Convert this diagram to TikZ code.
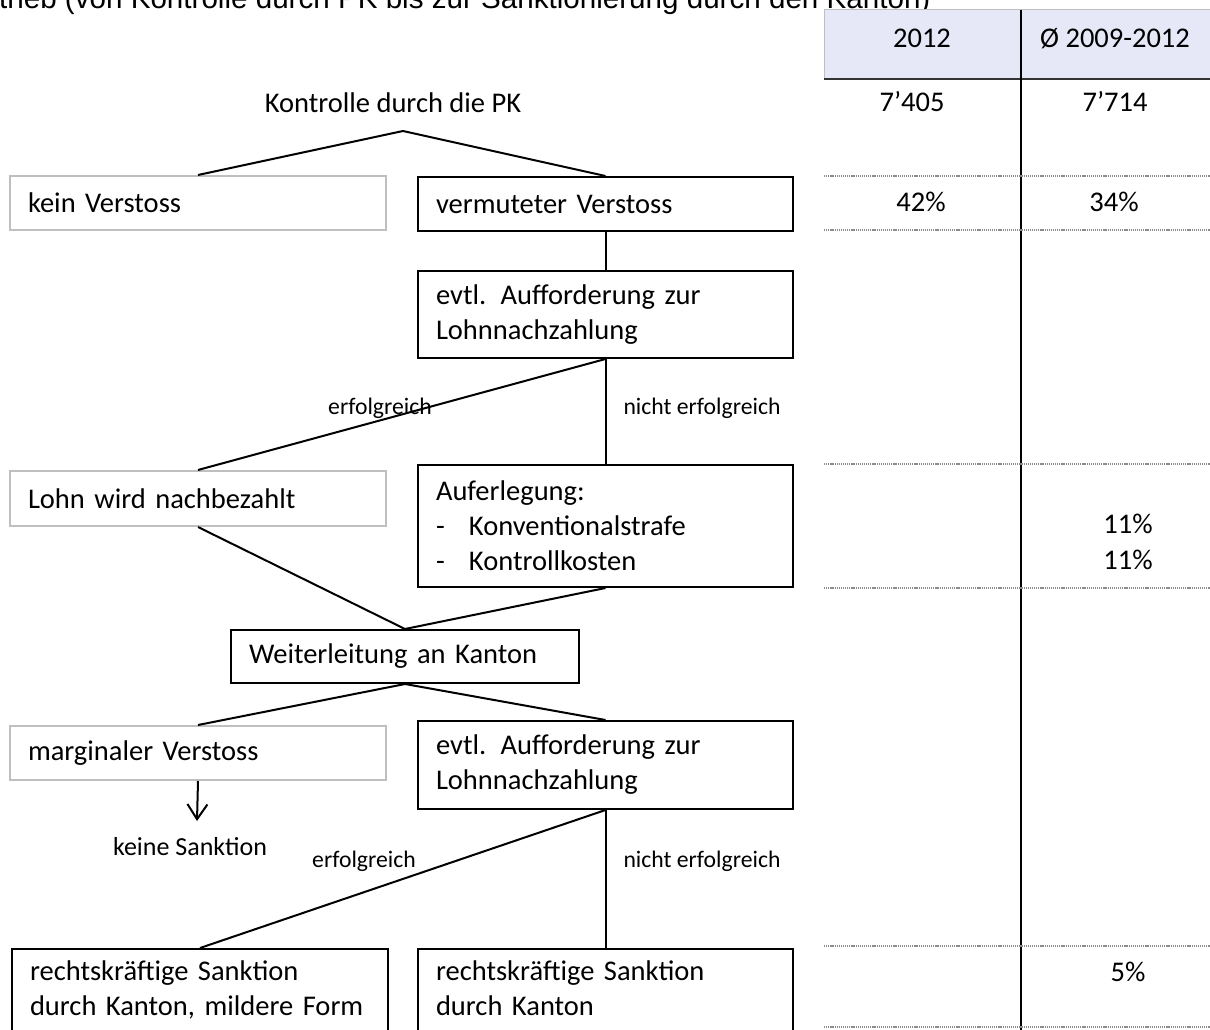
\documentclass[tikz,border=0pt]{standalone}
\usepackage{fontspec}
\setmainfont{Carlito}
\newfontfamily\arialfont{Liberation Sans}
\usetikzlibrary{arrows.meta}
\definecolor{headfill}{HTML}{E6E8F8}
\definecolor{graybord}{HTML}{BFBFBF}
\definecolor{dotgray}{HTML}{8C8C8C}
\begin{document}
\begin{tikzpicture}[x=1pt,y=-1pt,
  box/.style={draw=black, line width=2pt, rectangle, inner xsep=18pt, inner ysep=0pt,
    align=left, anchor=north west, font=\fontsize{28.5}{35}\selectfont},
  graybox/.style={box, draw=graybord},
  txt/.style={inner sep=0pt, anchor=base, font=\fontsize{28.5}{35}\selectfont},
  lbl/.style={inner sep=0pt, anchor=base, font=\fontsize{23.7}{28}\selectfont},
  conn/.style={draw=black, line width=2pt},
  dotline/.style={draw=dotgray, line width=1.6pt, dash pattern=on 1.2pt off 0.9pt}]
\useasboundingbox (0,0) rectangle (1210,1030);
\clip (0,0) rectangle (1210,1030);

% title (cut at top)
\node[inner sep=0pt, anchor=base west, font=\arialfont\fontsize{29.6}{35}\selectfont] (title) at (-1,9)
  {trieb (von Kontrolle durch PK bis zur Sanktionierung durch den Kanton)};

% table
\fill[headfill] (824,10) rectangle (1210,78);
\draw[graybord, line width=1pt] (824,78) -- (824,10) -- (1210,10);
\draw[black!80, line width=2.5pt] (824,79) -- (1210,79);
\draw[black, line width=1.8pt] (1021,10) -- (1021,1030);
\foreach \yy in {176,230,464,588,946,1027} {
  \draw[dotline] (824,\yy) -- (1210,\yy);
}
\node[txt] (h1) at (922,48) {2012};
\node[txt] (h2) at (1115,48) {Ø 2009-2012};
\node[txt] (v1) at (912,112) {7’405};
\node[txt] (v2) at (1115,112) {7’714};
\node[txt] (p1) at (921,211) {42\%};
\node[txt] (p2) at (1114,211) {34\%};
\node[txt] (p3) at (1128,533) {11\%};
\node[txt] (p4) at (1128,569) {11\%};
\node[txt] (p5) at (1128,981) {5\%};

% flow
\node[txt] (pk) at (393,113) {Kontrolle durch die PK};
\coordinate (apex) at (403,131);

\node[graybox, text width=340pt, minimum height=54pt] (kein) at (9,175) {kein Verstoss};
\node[box, text width=339pt, minimum height=54pt] (verm) at (417,176) {vermuteter Verstoss};
\node[box, text width=339pt, minimum height=87pt] (evtl1) at (417,270) {evtl. Aufforderung zur\\Lohnnachzahlung};
\node[graybox, text width=340pt, minimum height=55pt] (lohn) at (9,470) {Lohn wird nachbezahlt};
\node[box, text width=339pt, minimum height=122pt] (aufer) at (417,464)
  {Auferlegung:\\\makebox[33pt][l]{-}Konventionalstrafe\\\makebox[33pt][l]{-}Kontrollkosten};
\node[box, text width=312pt, minimum height=53pt] (weiter) at (230,629) {Weiterleitung an Kanton};
\node[graybox, text width=340pt, minimum height=54pt] (marg) at (9,725) {marginaler Verstoss};
\node[box, text width=339pt, minimum height=88pt] (evtl2) at (417,720) {evtl. Aufforderung zur\\Lohnnachzahlung};
\node[box, text width=340pt, minimum height=84pt] (rk1) at (11,948) {\strut rechtskräftige Sanktion\\durch Kanton, mildere Form\strut};
\node[box, text width=339pt, minimum height=84pt] (rk2) at (417,948) {\strut rechtskräftige Sanktion\\durch Kanton\strut};

\node[lbl, font=\fontsize{26}{30}\selectfont] (ks) at (190,855) {keine Sanktion};
\coordinate (ksarrow) at (197,821);

\node[lbl] (e1) at (380,414) {erfolgreich};
\node[lbl] (n1) at (702,414) {nicht erfolgreich};
\node[lbl] (e2) at (364,867) {erfolgreich};
\node[lbl] (n2) at (702,867) {nicht erfolgreich};

\draw[conn] (apex) -- (kein.north);
\draw[conn] (apex) -- (verm.north);
\draw[conn] (verm.south) -- (evtl1.north);
\draw[conn] (evtl1.south) -- (lohn.north);
\draw[conn] (evtl1.south) -- (aufer.north);
\draw[conn] (lohn.south) -- (weiter.north);
\draw[conn] (aufer.south) -- (weiter.north);
\draw[conn] (weiter.south) -- (marg.north);
\draw[conn] (weiter.south) -- (evtl2.north);
\draw[conn, -{Straight Barb[length=15pt,width=20pt]}] (marg.south) -- (ksarrow);
\draw[conn] (evtl2.south) -- (rk1.north);
\draw[conn] (evtl2.south) -- (rk2.north);
\end{tikzpicture}
\end{document}
